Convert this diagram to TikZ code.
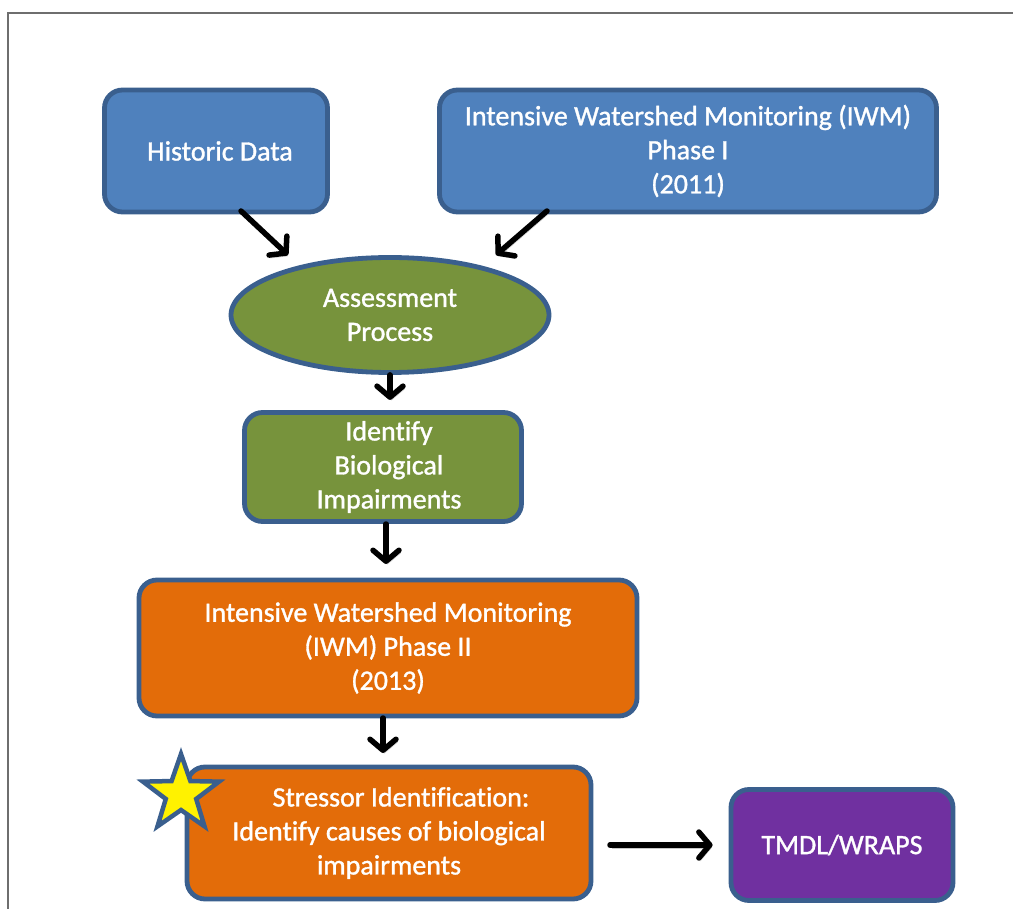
\documentclass[tikz,border=0pt]{standalone}
\usepackage{fontspec}
\setmainfont[FakeBold=1.2,Ligatures=NoCommon]{Carlito}
\newfontfamily\boxfont[FakeBold=1.2,Ligatures=NoCommon]{Carlito}
\usetikzlibrary{shapes.geometric,arrows.meta}
\definecolor{bfill}{HTML}{4F81BD}
\definecolor{bdraw}{HTML}{3A5F8E}
\definecolor{gfill}{HTML}{77933C}
\definecolor{ofill}{HTML}{E36C09}
\definecolor{pfill}{HTML}{7030A0}
\definecolor{frame}{HTML}{6E6E6E}
\tikzset{
  box/.style={draw=bdraw, line width=4.8pt, rounded corners=18pt, text=white, align=center,
    font=\boxfont\fontsize{28}{34}\selectfont, inner sep=0pt},
  oval/.style={ellipse, draw=bdraw, line width=4.8pt, text=white, align=center,
    font=\boxfont\fontsize{28}{34}\selectfont, inner sep=0pt},
  arr/.style={line width=5.5pt, line cap=round, -{Straight Barb[length=11pt,width=26pt,round]},
    preaction={draw=black!22, transform canvas={shift={(1.5pt,-3pt)}}}},
}
\begin{document}
\begin{tikzpicture}[x=1pt,y=-1pt]
\useasboundingbox (0,0) rectangle (1013,909);
\draw[frame, line width=1.5pt] (8,909) -- (8,13) -- (1013,13);
\node[box, fill=bfill, minimum width=223pt, minimum height=122pt] (hist) at (216,151) {\hspace*{8pt}Historic Data};
\node[box, fill=bfill, minimum width=497pt, minimum height=122pt] (iwm1) at (688,151) {Intensive Watershed Monitoring (IWM)\\Phase I\\(2011)};
\node[oval, fill=gfill, minimum width=318pt, minimum height=115pt] (assess) at (390,315) {Assessment\\Process};
\node[box, fill=gfill, minimum width=277pt, minimum height=109pt] (bio) at (383,467) {\hspace*{12pt}Identify\\\hspace*{12pt}Biological\\\hspace*{12pt}Impairments};
\node[box, fill=ofill, minimum width=498pt, minimum height=136pt] (iwm2) at (388,648) {Intensive Watershed Monitoring\\(IWM) Phase II\\(2013)};
\node[box, fill=ofill, minimum width=404pt, minimum height=132pt] (stress) at (389,833) {\hspace*{24pt}Stressor Identification:\\Identify causes of biological\\impairments};
\node[box, fill=pfill, minimum width=222pt, minimum height=111pt] (tmdl) at (842,845) {TMDL/WRAPS};
\node[star, star points=5, star point ratio=2.5, draw=bdraw, line width=4.5pt, fill=yellow,
  minimum size=80pt, inner sep=0pt] (star) at (181,794) {};
\coordinate (a1s) at (241,211); \coordinate (a1e) at (288,255);
\coordinate (a2s) at (547,211); \coordinate (a2e) at (496,255);
\draw[arr] (a1s) -- (a1e);
\draw[arr] (a2s) -- (a2e);
\draw[arr] (assess.south) -- ++(0,25);
\draw[arr] (386,524) -- (386,564);
\draw[arr] (383,718) -- (383,753);
\draw[arr] (610,845) -- ([xshift=-16pt]tmdl.west);
\end{tikzpicture}
\end{document}
